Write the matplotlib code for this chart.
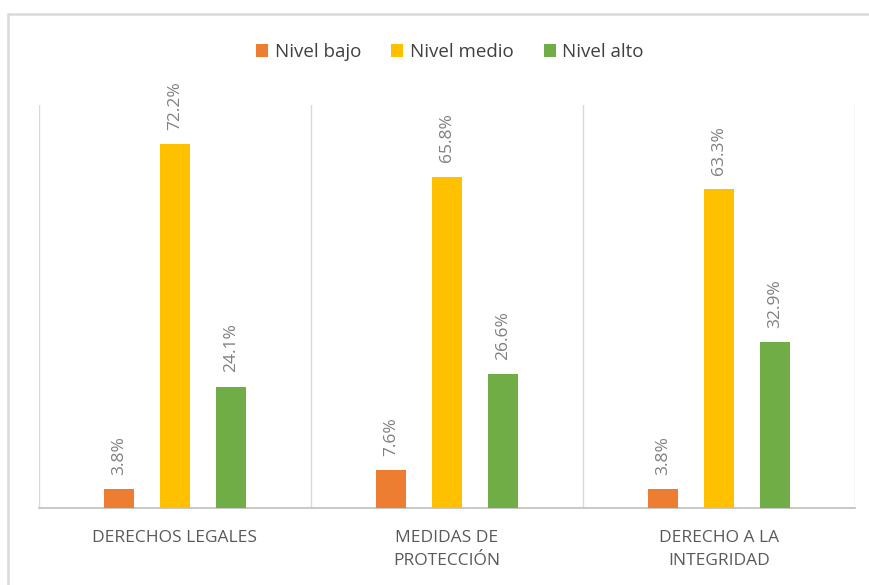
import numpy as np
import matplotlib.pyplot as plt
from matplotlib.patches import Rectangle

# datos
categorias = ['DERECHOS LEGALES', 'MEDIDAS DE\nPROTECCIÓN', 'DERECHO A LA\nINTEGRIDAD']
series = ['Nivel bajo', 'Nivel medio', 'Nivel alto']
bajo = [3.8, 7.6, 3.8]
medio = [72.2, 65.8, 63.3]
alto = [24.1, 26.6, 32.9]

colores = ['#ED7D31', '#FFC000', '#70AD47']

plt.rcParams['font.family'] = ['Open Sans', 'DejaVu Sans']

fig = plt.figure(figsize=(8.69, 5.85), dpi=100)
ax = fig.add_axes([39 / 869, 1 - 508 / 585, (855 - 39) / 869, (508 - 105) / 585])

# marco exterior del gráfico
fig.patches.append(Rectangle((8 / 869, -0.05), 1.1, 1 - 14 / 585 + 0.05,
                             transform=fig.transFigure, fill=False,
                             edgecolor='#d9d9d9', linewidth=1.8))

x = np.arange(len(categorias))
ancho = 0.107
paso = 0.206
for i, (nombre, valores) in enumerate(zip(series, [bajo, medio, alto])):
    pos = x + (i - 1) * paso
    barras = ax.bar(pos, valores, width=ancho, color=colores[i], label=nombre, zorder=3)
    for b, v in zip(barras, valores):
        ax.text(b.get_x() + b.get_width() / 2, v + 2.8, f'{v:.1f}%',
                rotation=90, ha='center', va='bottom', fontsize=12.5,
                color='#7f7f7f')

ax.set_xlim(-0.5, len(categorias) - 0.5)
ax.set_ylim(0, 80)
ax.set_yticks([])
ax.set_xticks(x)
ax.set_xticklabels(categorias, fontsize=12.5, color='#595959', linespacing=1.55)
ax.tick_params(axis='x', length=0, pad=16)

# separadores verticales entre categorías
for s in np.arange(-0.5, len(categorias), 1):
    ax.axvline(s, color='#d9d9d9', linewidth=1, zorder=1)

for lado in ['top', 'right', 'left']:
    ax.spines[lado].set_visible(False)
ax.spines['bottom'].set_color('#bfbfbf')
ax.spines['bottom'].set_linewidth(1.2)

fig.legend(loc='center', bbox_to_anchor=(450 / 869, 1 - 52 / 585), ncol=3,
           frameon=False, fontsize=13.5, handlelength=0.65, handleheight=0.65,
           columnspacing=1.6, handletextpad=0.35, labelcolor='#404040')

fig.savefig('out.png', dpi=100)
